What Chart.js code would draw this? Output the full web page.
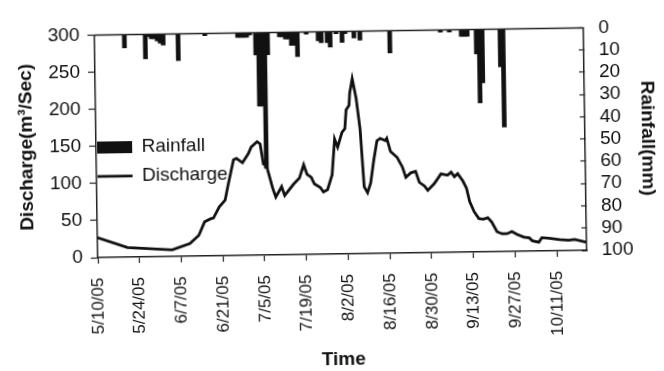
<!DOCTYPE html>
<html>
<head>
<meta charset="utf-8">
<script src="https://cdn.jsdelivr.net/npm/chart.js@4/dist/chart.umd.min.js"></script>
<style>
html,body{margin:0;padding:0;background:#fff;overflow:hidden;}
#wrap{width:664px;height:371px;position:relative;overflow:hidden;}
#c{transform:rotate(-0.85deg);transform-origin:340px 136px;}
</style>
</head>
<body>
<div id="wrap"><canvas id="c" width="664" height="371"></canvas></div>
<script>
// x tick labels (every 14 days starting 5/10/05)
const tickLabels = ['5/10/05','5/24/05','6/7/05','6/21/05','7/5/05','7/19/05','8/2/05','8/16/05','8/30/05','9/13/05','9/27/05','10/11/05'];
const tickStepDays = 14;
const lastDay = 164; // days after 5/10/05 at right edge of axis

// Discharge (m3/s): day offset from 5/10/05 and value
const dischargeDays = [0,10,25,31,34,36,38,39,41,43,44,46,47,49,51,52,54,55,56,57,59,60,62,63,66,68,69.5,70.6,72,73,75,76,77.4,79,80,81,82.5,83.5,84,85,85.3,86.2,87.4,88.6,89.7,90.8,91.9,93,94.2,95.3,97,97.5,98.7,100.9,102.6,103.7,105.4,107,108.2,109.9,111,113.2,115.5,117.7,118.9,120,121.1,122.8,124,125,126.5,128,129.5,131,132.3,134,135.7,137.4,139,140.7,143,144.8,145.8,148,149,151.5,155,158,160,164];
const dischargeValues = [27,13,9,17,28,46,50,51,66,75,94,129,131,125,137,146,153,150,123,121,90,78,92,80,95,103,121,108,104,95,90,84,87,107,155,144,164,169,194,200,217,236,210,168,90,82,95,125,152,155,152,155,137,129,116,102,108,110,95,90,84,93,106,104,108,102,106,96,86,68,54,45,44,46,40,27,24,24,27,23,19,18,14,12,18,17,15,14,15,11];

// Rainfall (mm): day offset and value
const rainDays = [10,17,18,19,20,21,22,23,28,37,48,49,50,51,52,54,55,56,57,58,62,63,64,65,66,67,68,71,75,76,78,79,81,83,84,87,89,99,116,119,123,124,125,128,129,130,136,137];
const rainValues = [6,11,1,2,2,3,4,5,12,1,2,2,2,2,1,10,33,33,61,10,2,2,3,3,6,6,11,1,4,5,5,7,1,5,1,3,4,10,1,1,3,3,3,11,33,24,17,44];

Chart.defaults.font.family = "'Liberation Sans', Arial, sans-serif";
Chart.defaults.color = '#111';

const INK = '#111';
const AXIS = '#222';

const topFrame = {
  id: 'topFrame',
  afterDatasetsDraw(chart) {
    const {ctx, chartArea: a} = chart;
    ctx.save();
    ctx.strokeStyle = AXIS;
    ctx.lineWidth = 1.5;
    ctx.beginPath();
    ctx.moveTo(a.left, a.top);
    ctx.lineTo(a.right, a.top);
    ctx.stroke();
    ctx.restore();
  }
};

const legendPlace = {
  id: 'legendPlace',
  afterLayout(chart) {
    const lg = chart.legend;
    const a = chart.chartArea;
    lg.left = a.left - 9;
    lg.top = a.top + 93;
    lg.right = lg.left + lg.width;
    lg.bottom = lg.top + lg.height;
  }
};

new Chart(document.getElementById('c'), {
  data: {
    datasets: [
      {
        type: 'bar',
        label: 'Rainfall',
        data: rainDays.map((d, i) => ({x: d, y: rainValues[i]})),
        backgroundColor: INK,
        borderWidth: 0,
        barThickness: 4,
        yAxisID: 'y2',
        xAxisID: 'x'
      },
      {
        type: 'line',
        label: 'Discharge',
        data: dischargeDays.map((d, i) => ({x: d, y: dischargeValues[i]})),
        borderColor: INK,
        backgroundColor: INK,
        borderWidth: 2.8,
        pointRadius: 0,
        tension: 0,
        yAxisID: 'y',
        xAxisID: 'x'
      }
    ]
  },
  options: {
    responsive: false,
    animation: false,
    devicePixelRatio: 1,
    layout: {padding: {left: 0, right: 0, top: 19, bottom: 0}},
    plugins: {
      tooltip: {enabled: false},
      legend: {
        position: 'chartArea',
        align: 'start',
        labels: {
          usePointStyle: true,
          pointStyleWidth: 35,
          boxHeight: 12,
          padding: 10,
          color: INK,
          font: {size: 19},
          generateLabels(chart) {
            const items = Chart.defaults.plugins.legend.labels.generateLabels(chart);
            items.forEach(it => {
              it.pointStyle = chart.data.datasets[it.datasetIndex].type === 'bar' ? 'rect' : 'line';
            });
            items.sort((p, q) => p.datasetIndex - q.datasetIndex);
            return items;
          }
        }
      }
    },
    scales: {
      x: {
        type: 'linear',
        position: 'bottom',
        offset: false,
        min: 0,
        max: lastDay,
        afterBuildTicks(axis) {
          axis.ticks = tickLabels.map((_, i) => ({value: i * tickStepDays}));
        },
        afterFit(axis) { axis.height = 117; },
        ticks: {
          autoSkip: false,
          maxRotation: 90,
          minRotation: 90,
          padding: 14,
          color: INK,
          font: {size: 17},
          callback: (v, i) => tickLabels[i]
        },
        grid: {drawOnChartArea: false, offset: false, tickLength: 6, color: AXIS, tickWidth: 1.2},
        border: {color: AXIS, width: 1.5},
        title: {display: true, text: 'Time', color: INK, font: {size: 19, weight: 'bold'}, padding: {top: 0, bottom: 0}}
      },
      y: {
        type: 'linear',
        position: 'left',
        min: 0,
        max: 300,
        afterFit(axis) { axis.width = 96; },
        ticks: {stepSize: 50, padding: 8, color: INK, font: {size: 19}},
        grid: {drawOnChartArea: false, tickLength: 7, color: AXIS, tickWidth: 1.2},
        border: {color: AXIS, width: 1.5},
        title: {display: true, text: 'Discharge(m³/Sec)', color: INK, font: {size: 19, weight: 'bold'}, padding: {top: 15, bottom: 0}}
      },
      y2: {
        type: 'linear',
        position: 'right',
        min: 0,
        max: 100,
        reverse: true,
        afterFit(axis) { axis.width = 79; },
        ticks: {stepSize: 10, autoSkip: false, padding: 20, color: INK, font: {size: 19}},
        grid: {drawOnChartArea: false, tickLength: -5, color: AXIS, tickWidth: 1.2},
        border: {color: AXIS, width: 1.5},
        title: {display: true, text: 'Rainfall(mm)', color: INK, font: {size: 19, weight: 'bold'}, padding: {top: 5, bottom: 0}}
      }
    }
  },
  plugins: [topFrame, legendPlace]
});
</script>
</body>
</html>
